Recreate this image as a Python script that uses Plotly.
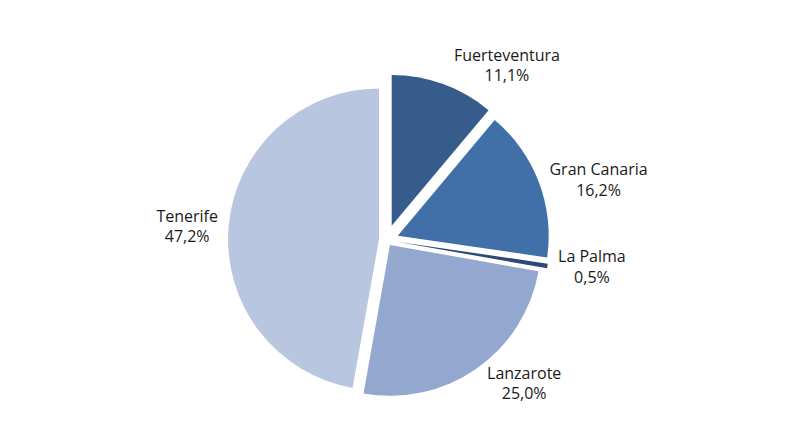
import plotly.graph_objects as go

## data
islands = ["Fuerteventura", "Gran Canaria", "La Palma", "Lanzarote", "Tenerife"]
shares = [11.1, 16.2, 0.5, 25.0, 47.2]
colors = ["#355C8A", "#4170A8", "#2B4A75", "#93A7CF", "#B9C6E0"]
explode = [0.1, 0.08, 0.08, 0.04, 0.05]

# spanish style labels: comma as decimal mark
labels_txt = [f"{v:.1f}".replace(".", ",") + "%" for v in shares]

fig = go.Figure(
    go.Pie(
        labels=islands,
        values=shares,
        text=labels_txt,
        texttemplate="%{label}<br>%{text}",
        textposition="outside",
        textfont=dict(size=16, color="#1A1A1A"),
        marker=dict(colors=colors, line=dict(width=0)),
        pull=explode,
        sort=False,
        direction="clockwise",
        rotation=0,
        showlegend=False,
    )
)

fig.update_layout(
    width=788,
    height=432,
    margin=dict(l=120, r=120, t=22, b=22),
    font=dict(family="Open Sans, sans-serif"),
    paper_bgcolor="#FFFFFF",
    plot_bgcolor="#FFFFFF",
)

fig.write_html("out.html")
